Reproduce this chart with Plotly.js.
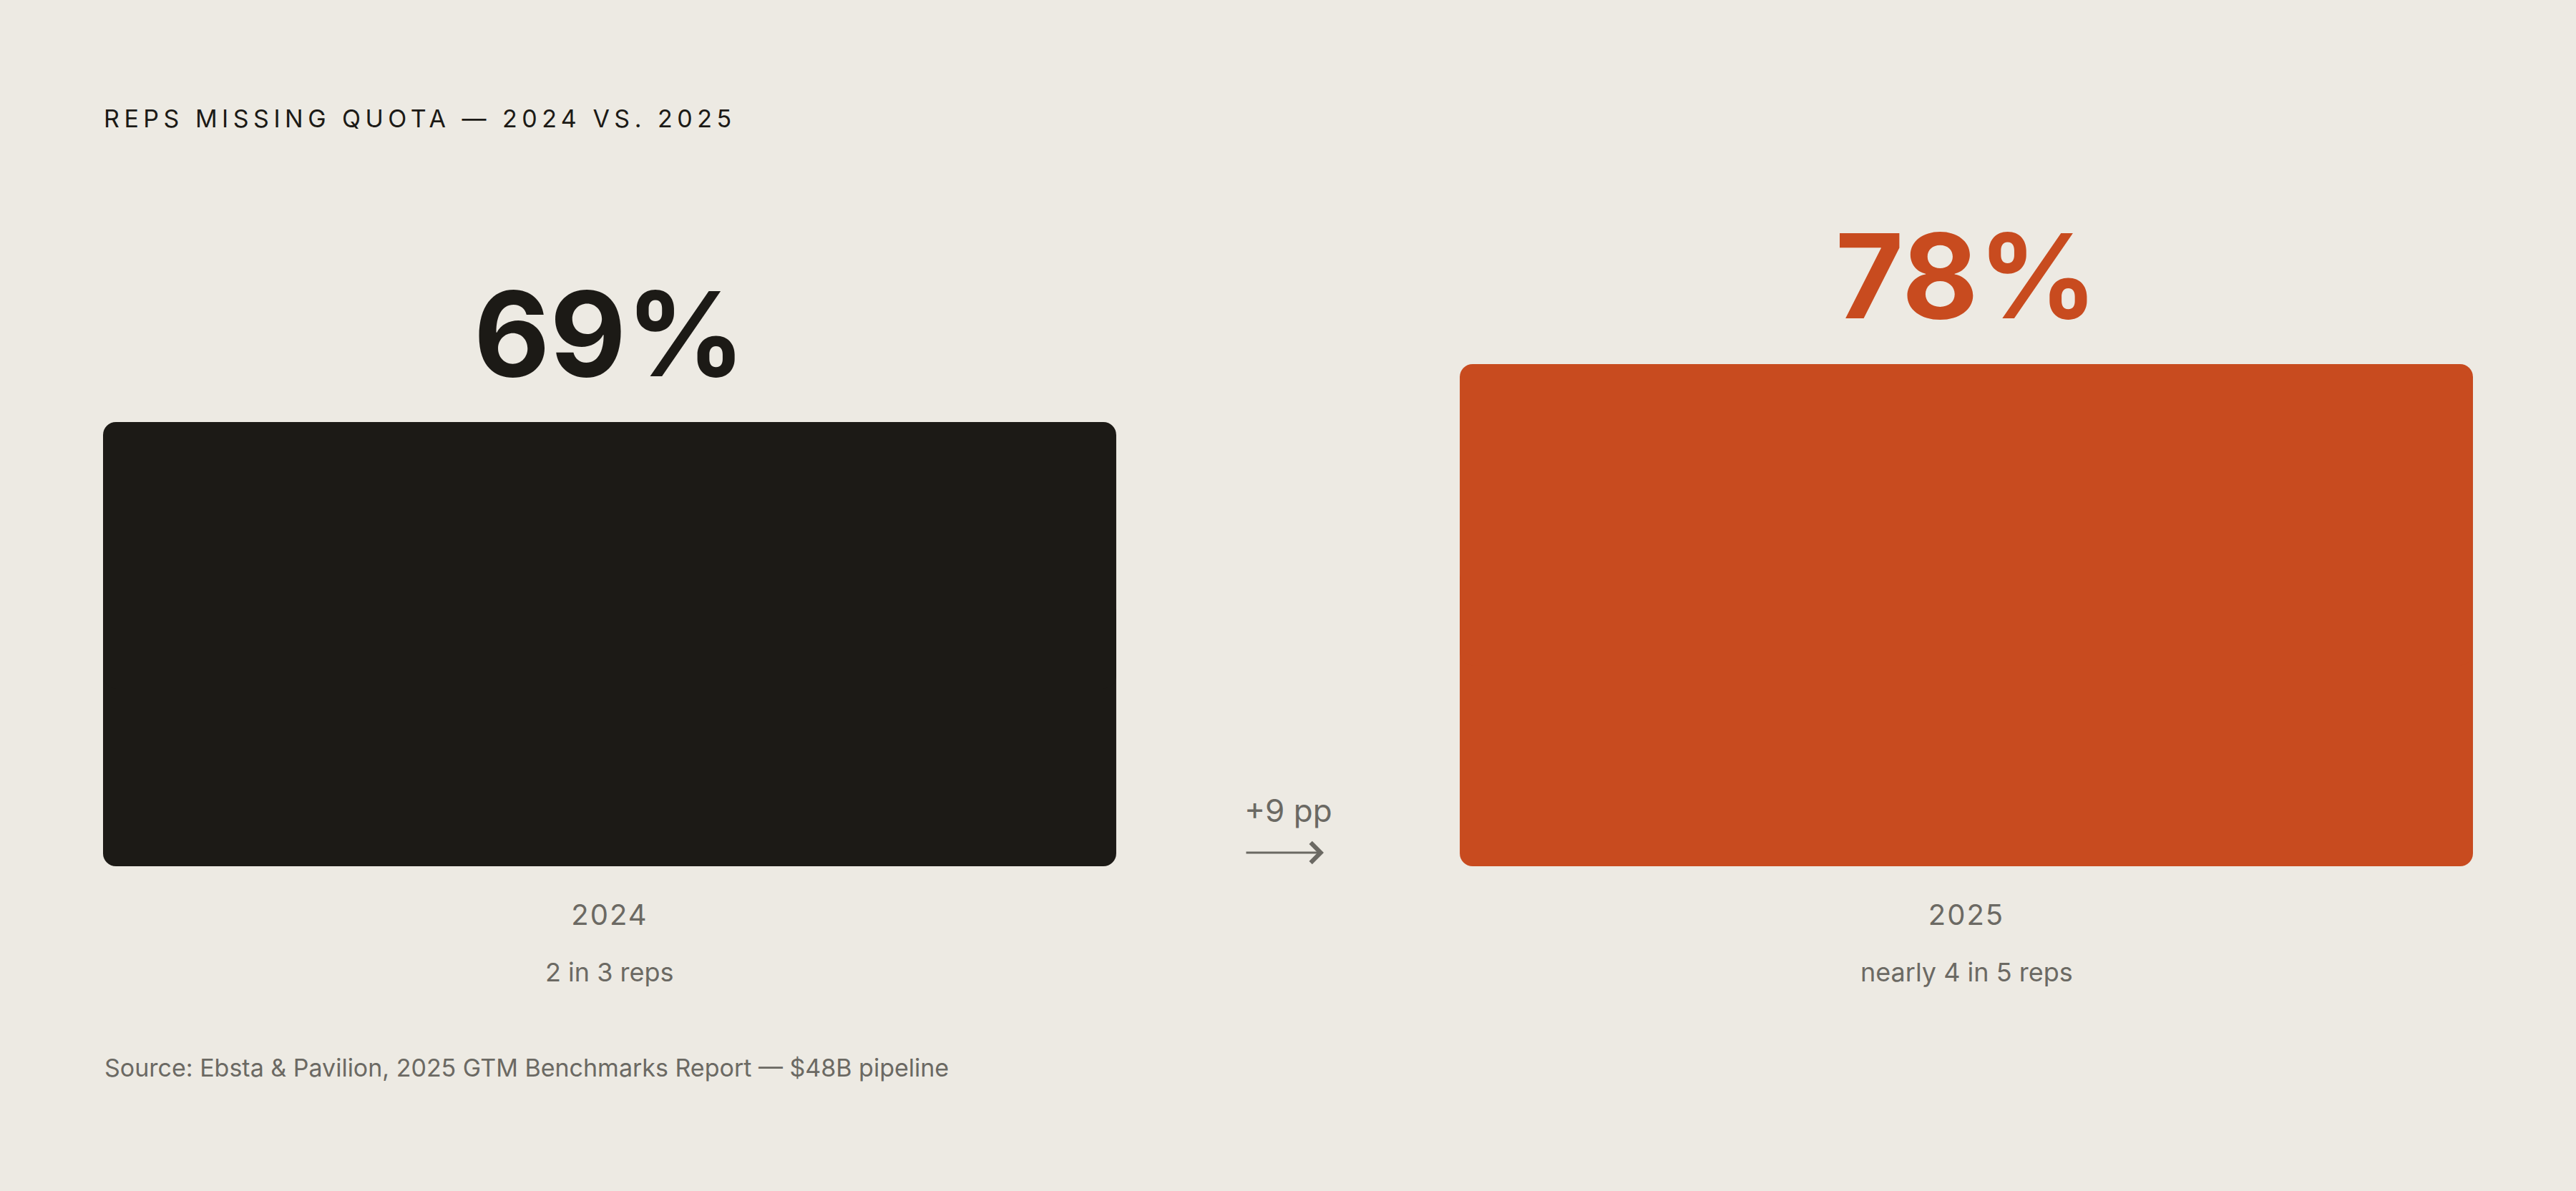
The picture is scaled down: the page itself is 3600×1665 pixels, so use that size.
<!DOCTYPE html>
<html>
<head>
<meta charset="utf-8">
<script src="https://cdn.plot.ly/plotly-3.0.1.min.js"></script>
<style>
  html, body { margin: 0; padding: 0; background: #edeae3; }
  #chart { width: 3600px; height: 1665px; }
  .gtitle { letter-spacing: 6.5px; }
  .xtick text { letter-spacing: 2px; }
</style>
</head>
<body>
<div id="chart"></div>
<script>
// data
var years = ['2024', '2025'];
var shares = [69, 78];            // % of reps missing quota
var notes = ['2 in 3 reps', 'nearly 4 in 5 reps'];
var barColors = ['#1c1a16', '#c84b1f'];
var changeLabel = '+9 pp';
var sourceText = 'Source: Ebsta & Pavilion, 2025 GTM Benchmarks Report \u2014 $48B pipeline';

var FONT = 'Inter, "Noto Sans", sans-serif';
var GREY = '#6b6963';
var BAR_W = 0.7468;
var xs = years.map(function (d, i) { return i; });

// each bar is drawn as two overlapping halves so all four corners get rounded
var lower = {
  type: 'bar',
  x: xs,
  base: shares.map(function (v) { return v * 0.6; }),
  y: shares.map(function (v) { return -v * 0.6; }),
  width: BAR_W,
  marker: { color: barColors, cornerradius: 18, line: { width: 0 } },
  hoverinfo: 'skip',
  showlegend: false
};

var upper = {
  type: 'bar',
  x: xs,
  base: shares.map(function (v) { return v * 0.4; }),
  y: shares.map(function (v) { return v * 0.6; }),
  width: BAR_W,
  marker: { color: barColors, cornerradius: 18, line: { width: 0 } },
  hoverinfo: 'skip',
  showlegend: false
};

var annotations = [];

// big value labels
shares.forEach(function (v, i) {
  annotations.push({
    x: i, y: v, xref: 'x', yref: 'y',
    text: v + '%',
    showarrow: false,
    yanchor: 'bottom',
    yshift: 22,
    font: { family: FONT, size: 164, weight: 700, color: barColors[i] }
  });
});

// small notes under the year labels
notes.forEach(function (t, i) {
  annotations.push({
    x: i, y: 0, xref: 'x', yref: 'y',
    text: t,
    showarrow: false,
    yanchor: 'middle',
    yshift: -148,
    font: { family: FONT, size: 36, color: GREY }
  });
});

// change marker between the bars
annotations.push({
  x: 0.5, y: 0, xref: 'x', yref: 'y',
  text: changeLabel,
  showarrow: false,
  yanchor: 'middle',
  yshift: 78,
  font: { family: FONT, size: 44, color: GREY }
});
annotations.push({
  x: 0.5, y: 0, xref: 'x', yref: 'y',
  xshift: 50, yshift: 19,
  text: '',
  showarrow: true,
  ax: -110, ay: 0,
  arrowhead: 4, arrowsize: 1.8, arrowwidth: 3,
  arrowcolor: GREY
});

// source line
annotations.push({
  x: 0, y: -0.313, xref: 'paper', yref: 'paper',
  xanchor: 'left', yanchor: 'middle',
  text: sourceText,
  showarrow: false,
  font: { family: FONT, size: 34, color: GREY }
});

var layout = {
  width: 3600,
  height: 1665,
  paper_bgcolor: '#edeae3',
  plot_bgcolor: '#edeae3',
  barmode: 'overlay',
  margin: { l: 144, r: 144, t: 311, b: 454, pad: 0 },
  title: {
    text: 'REPS MISSING QUOTA \u2014 2024 VS. 2025',
    xref: 'container', yref: 'container',
    x: 145 / 3600, xanchor: 'left',
    y: 1 - 166 / 1665, yanchor: 'middle',
    font: { family: FONT, size: 34, color: '#1c1a16' }
  },
  xaxis: {
    range: [-BAR_W / 2, 1 + BAR_W / 2],
    tickvals: xs,
    ticktext: years,
    ticks: '',
    ticklabelstandoff: 41,
    tickfont: { family: FONT, size: 40, color: GREY },
    showgrid: false, zeroline: false, showline: false,
    fixedrange: true
  },
  yaxis: {
    range: [0, 100],
    visible: false,
    fixedrange: true
  },
  annotations: annotations,
  showlegend: false
};

Plotly.newPlot('chart', [lower, upper], layout, { displayModeBar: false, staticPlot: true });
</script>
</body>
</html>
